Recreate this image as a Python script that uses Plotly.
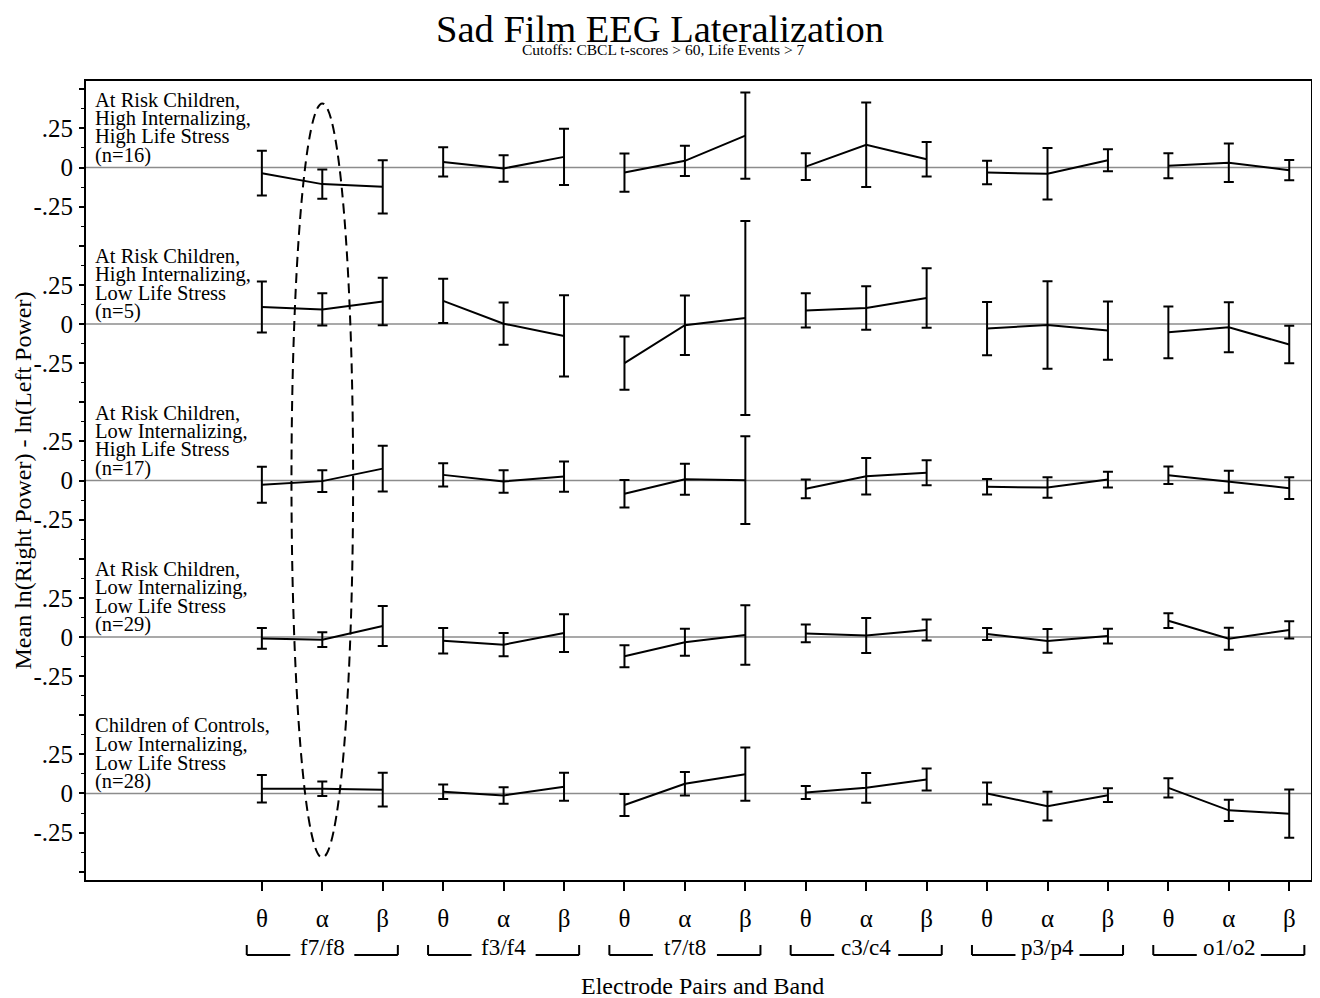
import plotly.graph_objects as go

# ---------------- data ----------------
electrodes = ["f7/f8", "f3/f4", "t7/t8", "c3/c4", "p3/p4", "o1/o2"]
bands = ["θ", "α", "β"]

group_labels = [
    ["At Risk Children,", "High Internalizing,", "High Life Stress", "(n=16)"],
    ["At Risk Children,", "High Internalizing,", "Low Life Stress", "(n=5)"],
    ["At Risk Children,", "Low Internalizing,", "High Life Stress", "(n=17)"],
    ["At Risk Children,", "Low Internalizing,", "Low Life Stress", "(n=29)"],
    ["Children of Controls,", "Low Internalizing,", "Low Life Stress", "(n=28)"],
]

# means, ordered electrode by electrode (theta, alpha, beta)
mean_hi_hs = [-0.036, -0.106, -0.123, 0.036, -0.006, 0.068, -0.032, 0.043, 0.204,
              0.006, 0.146, 0.053, -0.032, -0.040, 0.047, 0.011, 0.030, -0.017]
err_hi_hs = [0.143, 0.093, 0.170, 0.093, 0.085, 0.180, 0.122, 0.097, 0.275,
             0.086, 0.270, 0.110, 0.075, 0.165, 0.070, 0.080, 0.123, 0.065]

mean_hi_ls = [0.108, 0.093, 0.144, 0.148, 0.002, -0.076, -0.250, -0.008, 0.038,
              0.087, 0.102, 0.166, -0.029, -0.006, -0.042, -0.053, -0.021, -0.131]
err_hi_ls = [0.163, 0.103, 0.152, 0.141, 0.135, 0.260, 0.170, 0.190, 0.620,
             0.110, 0.139, 0.190, 0.170, 0.280, 0.186, 0.165, 0.160, 0.120]

mean_li_hs = [-0.027, -0.004, 0.076, 0.036, -0.006, 0.025, -0.085, 0.008, 0.002,
              -0.053, 0.027, 0.049, -0.040, -0.045, 0.006, 0.034, -0.008, -0.049]
err_li_hs = [0.115, 0.070, 0.146, 0.074, 0.072, 0.097, 0.088, 0.099, 0.280,
             0.060, 0.117, 0.080, 0.049, 0.065, 0.050, 0.056, 0.071, 0.069]

mean_li_ls = [-0.009, -0.017, 0.070, -0.024, -0.049, 0.025, -0.123, -0.034, 0.013,
              0.023, 0.010, 0.045, 0.019, -0.025, 0.006, 0.104, -0.011, 0.045]
err_li_ls = [0.066, 0.047, 0.128, 0.082, 0.074, 0.121, 0.070, 0.086, 0.190,
             0.057, 0.112, 0.067, 0.038, 0.076, 0.047, 0.047, 0.070, 0.055]

mean_ctrl = [0.030, 0.030, 0.024, 0.011, -0.013, 0.043, -0.074, 0.062, 0.123,
             0.006, 0.036, 0.089, 0.000, -0.081, -0.011, 0.036, -0.108, -0.129]
err_ctrl = [0.088, 0.046, 0.108, 0.047, 0.053, 0.090, 0.070, 0.075, 0.170,
            0.042, 0.095, 0.070, 0.070, 0.092, 0.044, 0.062, 0.068, 0.154]

panel_means = [mean_hi_hs, mean_hi_ls, mean_li_hs, mean_li_ls, mean_ctrl]
panel_errs = [err_hi_hs, err_hi_ls, err_li_hs, err_li_ls, err_ctrl]

ytick_text = {0: "0", 1: ".25", 2: "", 3: "-.25"}

# ---------------- figure ----------------
FONT = "Liberation Serif, Times New Roman, serif"
n_panels = len(panel_means)
fig = go.Figure()

for p, (means, errs) in enumerate(zip(panel_means, panel_errs)):
    offset = n_panels - 1 - p
    for e in range(len(electrodes)):
        idx = list(range(e * 3, e * 3 + 3))
        fig.add_trace(go.Scatter(
            x=idx,
            y=[means[i] + offset for i in idx],
            mode="lines",
            line=dict(color="black", width=2),
            error_y=dict(type="data", array=[errs[i] for i in idx],
                         color="black", thickness=2, width=5),
            showlegend=False, hoverinfo="skip",
        ))
    # zero reference line
    fig.add_shape(type="line", xref="paper", yref="y", x0=0, x1=1,
                  y0=offset, y1=offset, layer="below",
                  line=dict(color="#8c8c8c", width=1.5))
    # panel label
    for k, line in enumerate(group_labels[p]):
        fig.add_annotation(xref="paper", yref="y", x=0, y=offset,
                           xanchor="left", yanchor="middle",
                           xshift=7, yshift=68 - 18.6 * k,
                           text=line, showarrow=False,
                           font=dict(family=FONT, size=20.5, color="black"))

# y ticks every .25 within each panel, minor every .125
tickvals, ticktext = [], []
for q in range(-2, 4 * n_panels - 1):
    tickvals.append(q * 0.25)
    ticktext.append(ytick_text[q % 4])
minor_vals = [(q + 0.5) * 0.25 for q in range(-2, 4 * n_panels - 2)]

# x tick labels
xticks = list(range(len(electrodes) * 3))
xtext = [bands[i % 3] for i in xticks]

# group labels with brackets
for e, name in enumerate(electrodes):
    c = e * 3 + 1
    fig.add_annotation(xref="x", yref="paper", x=c, y=0, yshift=-67,
                       xanchor="center", yanchor="middle", text=name,
                       showarrow=False,
                       font=dict(family=FONT, size=23, color="black"))
    left, right = c - 1.25, c + 1.25
    segs = [(left, c - 0.53), (c + 0.53, right)]
    for a, b in segs:
        fig.add_shape(type="line", xref="x", yref="paper", ysizemode="pixel",
                      yanchor=0, x0=a, x1=b, y0=-75, y1=-75,
                      line=dict(color="black", width=2))
    for xv in (left, right):
        fig.add_shape(type="line", xref="x", yref="paper", ysizemode="pixel",
                      yanchor=0, x0=xv, x1=xv, y0=-75, y1=-65,
                      line=dict(color="black", width=2))

# dashed ellipse around alpha of f7/f8 across the panels
mid_panel = (n_panels - 1) / 2
fig.add_shape(type="circle", xref="x", yref="y",
              x0=1 - 0.51, x1=1 + 0.51,
              y0=mid_panel - 2.41, y1=mid_panel + 2.41,
              line=dict(color="black", width=2, dash="10px,6px"))

# titles
fig.add_annotation(xref="paper", yref="paper", x=0.4686, y=1, yshift=52,
                   xanchor="center", yanchor="middle",
                   text="Sad Film EEG Lateralization", showarrow=False,
                   font=dict(family=FONT, size=38.5, color="black"))
fig.add_annotation(xref="paper", yref="paper", x=0.471, y=1, yshift=32,
                   xanchor="center", yanchor="middle",
                   text="Cutoffs: CBCL t-scores > 60, Life Events > 7",
                   showarrow=False,
                   font=dict(family=FONT, size=15.5, color="black"))
fig.add_annotation(xref="paper", yref="paper", x=0.503, y=0, yshift=-106,
                   xanchor="center", yanchor="middle",
                   text="Electrode Pairs and Band", showarrow=False,
                   font=dict(family=FONT, size=24, color="black"))
fig.add_annotation(xref="paper", yref="paper", x=0, y=0.5, xshift=-64,
                   xanchor="center", yanchor="middle", textangle=-90,
                   text="Mean ln(Right Power) - ln(Left Power)",
                   showarrow=False,
                   font=dict(family=FONT, size=24, color="black"))

# the page body adds an 8px offset; size the figure so the plot area lands
# where the reference has it
fig.update_layout(
    width=1312, height=990,
    margin=dict(l=78, r=7, t=73, b=118),
    paper_bgcolor="white", plot_bgcolor="white",
    showlegend=False,
    font=dict(family=FONT, color="black"),
    xaxis=dict(range=[-2.91, 17.36], tickmode="array", tickvals=xticks,
               ticktext=xtext, ticks="outside", ticklen=9, tickwidth=1.5,
               tickcolor="black", showgrid=False, zeroline=False,
               showline=True, linecolor="black", linewidth=2, mirror=True,
               tickfont=dict(family=FONT, size=25, color="black"),
               ticklabelstandoff=6),
    yaxis=dict(range=[-0.553, 4.553], tickmode="array", tickvals=tickvals,
               ticktext=ticktext, ticks="outside", ticklen=5, tickwidth=1.5,
               tickcolor="black", showgrid=False, zeroline=False,
               showline=True, linecolor="black", linewidth=2, mirror=True,
               tickfont=dict(family=FONT, size=25, color="black"),
               ticklabelstandoff=1,
               minor=dict(tickvals=minor_vals, ticks="outside", ticklen=3,
                          tickwidth=1.2, tickcolor="black", showgrid=False)),
)

fig.write_html("out.html")
